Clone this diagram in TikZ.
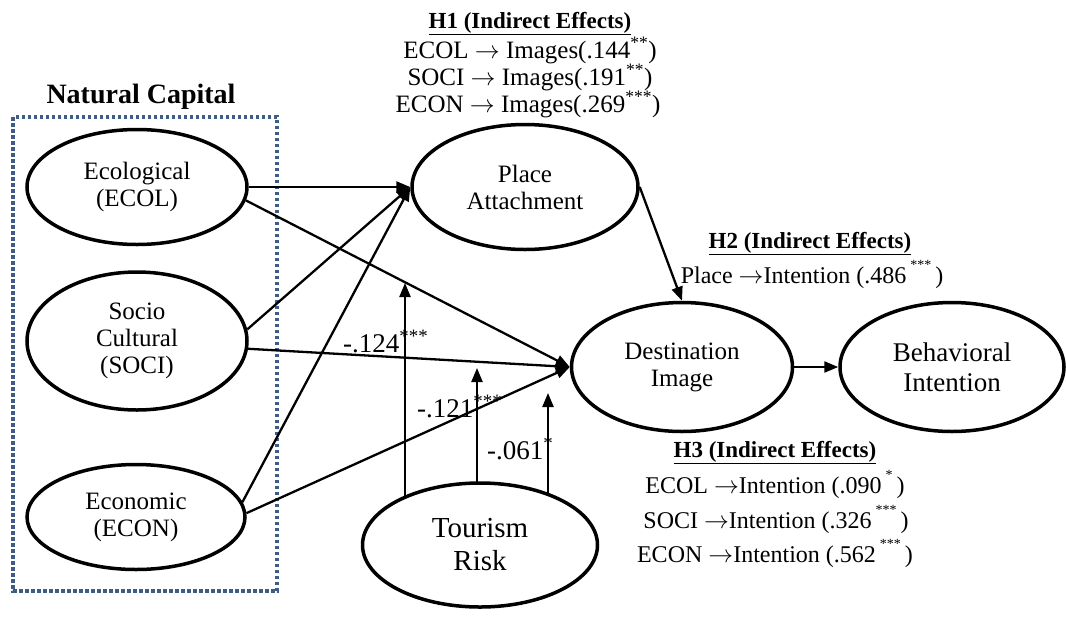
\documentclass[tikz,border=0pt]{standalone}
\usepackage{fontspec}
\setmainfont{Liberation Serif}
\usetikzlibrary{shapes.geometric,arrows.meta,calc}
\definecolor{boxblue}{RGB}{62,92,134}
% raised significance stars used in the indirect-effect lists
\newcommand{\upstars}[1]{\raisebox{0.55em}{\fontsize{14}{14}\selectfont #1}}
\begin{document}
\begin{tikzpicture}[x=1pt,y=-1pt,
  latent/.style={ellipse,draw,line width=3.5pt,inner sep=0pt,align=center,
    font=\fontsize{25}{27}\selectfont},
  arr/.style={line width=2.3pt,-{Triangle[length=14pt,width=11pt]}},
  coef/.style={anchor=base west,inner sep=0pt,font=\fontsize{27}{27}\selectfont},
  effhead/.style={anchor=base,inner sep=0pt,font=\fontsize{23}{23}\selectfont\bfseries},
  effline/.style={anchor=base,inner sep=0pt,font=\fontsize{24}{24}\selectfont},
]
\useasboundingbox (0,0) rectangle (1066,625);

% Natural capital group
\draw[boxblue,line width=3.5pt,dash pattern=on 3.5pt off 2.5pt] (13,117) rectangle (277,591);
\node[anchor=base,inner sep=0pt,font=\fontsize{28}{28}\selectfont\bfseries] (ncap) at (141,103) {Natural Capital};

% constructs
\node[latent,minimum width=220,minimum height=115] (ecol) at (137,187) {Ecological\\(ECOL)};
\node[latent,minimum width=220,minimum height=138] (soci) at (137,341) {Socio\\Cultural\\(SOCI)};
\node[latent,minimum width=218,minimum height=105] (econ) at (136,517) {Economic\\(ECON)};
\node[latent,minimum width=226,minimum height=125] (place) at (525,187) {Place\\Attachment};
\node[latent,minimum width=221,minimum height=129] (dest) at (682,367) {Destination\\Image};
\node[latent,minimum width=224,minimum height=129,font=\fontsize{27}{30}\selectfont] (behav) at (952,367) {Behavioral\\Intention};
\node[latent,minimum width=235,minimum height=124,font=\fontsize{29}{33}\selectfont] (risk) at (480,545) {Tourism\\Risk};

% direct paths
\draw[arr] (ecol.east) -- (place.west);
\draw[arr] (ecol.-7) -- (dest.west);
\draw[arr] (soci.6) -- (place.west);
\draw[arr] (soci.-4) -- (dest.west);
\draw[arr] (econ.8) -- (place.west);
\draw[arr] (econ.2) -- (dest.west);
\draw[arr] (place.east) -- (dest.north);
\draw[arr] (dest) -- (behav);

% moderating paths of tourism risk
\coordinate (m1) at (405,283);
\coordinate (m2) at (477,368);
\coordinate (m3) at (548,393);
\coordinate (r1) at ($(risk.center)+(-75,-48)$);
\coordinate (r2) at ($(risk.center)+(-3,-62)$);
\coordinate (r3) at ($(risk.center)+(68,-50)$);
\draw[arr] (r1) -- (m1);
\draw[arr] (r2) -- (m2);
\draw[arr] (r3) -- (m3);

\node[coef] (c1) at (343,352) {-.124\textsuperscript{***}};
\node[coef] (c2) at (417,417) {-.121\textsuperscript{***}};
\node[coef] (c3) at (487,459) {-.061\textsuperscript{*}};

% H1
\node[effhead] (h1) at (530,28) {\underline{H1 (Indirect Effects)}};
\node[effline,font=\fontsize{25}{25}\selectfont] (h1a) at (530,58) {ECOL $\rightarrow$ Images(.144\textsuperscript{**})};
\node[effline,font=\fontsize{25}{25}\selectfont] (h1b) at (530,85) {SOCI $\rightarrow$ Images(.191\textsuperscript{**})};
\node[effline,font=\fontsize{25}{25}\selectfont] (h1c) at (528,112) {ECON $\rightarrow$ Images(.269\textsuperscript{***})};

% H2
\node[effhead] (h2) at (810,248) {\underline{H2 (Indirect Effects)}};
\node[effline] (h2a) at (812,283) {Place $\rightarrow$Intention (.486\,\upstars{***}\,)};

% H3
\node[effhead] (h3) at (775,457) {\underline{H3 (Indirect Effects)}};
\node[effline] (h3a) at (775,493) {ECOL $\rightarrow$Intention (.090\,\upstars{*}\,)};
\node[effline] (h3b) at (776,528) {SOCI $\rightarrow$Intention (.326\,\upstars{***}\,)};
\node[effline] (h3c) at (775,562) {ECON $\rightarrow$Intention (.562\,\upstars{***}\,)};
\end{tikzpicture}
\end{document}
